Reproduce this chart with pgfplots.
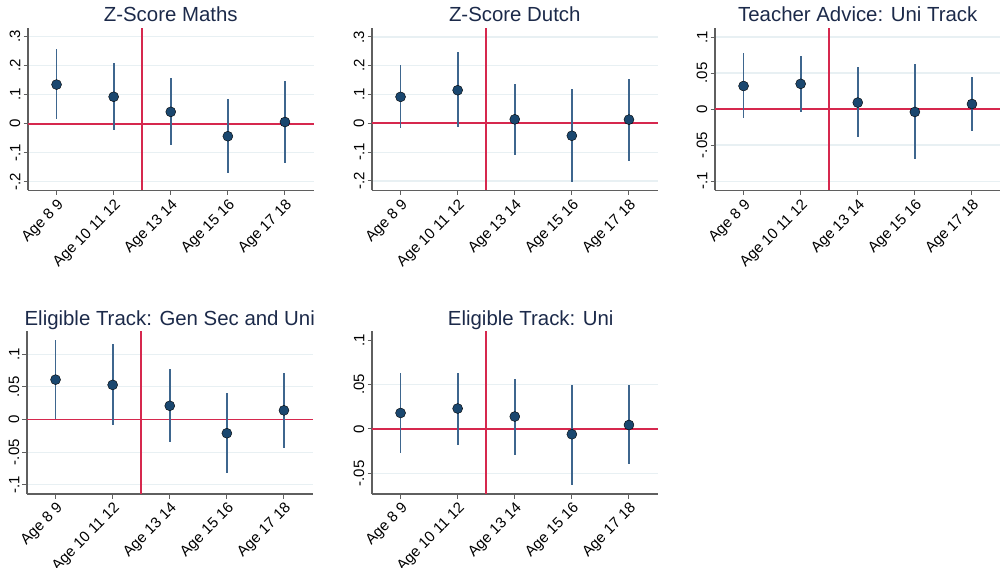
\documentclass[border=0pt]{standalone}
\usepackage{pgfplots}
\usepackage{pgfplotstable}
\usepackage{fontspec}
\setmainfont{Liberation Sans}
\pgfplotsset{compat=1.18}

\definecolor{navy}{RGB}{26,71,111}
\definecolor{cicol}{RGB}{62,102,142}
\definecolor{refred}{RGB}{214,40,78}
\definecolor{gridcol}{RGB}{232,240,243}
\definecolor{axiscol}{RGB}{95,95,95}
\definecolor{titlecol}{RGB}{28,42,74}

\newcommand{\ticksize}{\fontsize{15}{18}\selectfont}
\newcommand{\titlesize}{\fontsize{20.4}{24}\selectfont}

% estimate b with confidence bounds lo, hi for each age group
\pgfplotstableread{
x b lo hi
0 0.135 0.016 0.258
1 0.093 -0.023 0.211
2 0.041 -0.074 0.157
3 -0.043 -0.168 0.085
4 0.006 -0.134 0.147
}\mathsdata
\pgfplotstableread{
x b lo hi
0 0.092 -0.016 0.201
1 0.115 -0.012 0.248
2 0.014 -0.110 0.137
3 -0.043 -0.203 0.119
4 0.013 -0.129 0.153
}\dutchdata
\pgfplotstableread{
x b lo hi
0 0.032 -0.013 0.078
1 0.035 -0.004 0.074
2 0.009 -0.039 0.058
3 -0.004 -0.069 0.062
4 0.007 -0.031 0.045
}\advicedata
\pgfplotstableread{
x b lo hi
0 0.061 0.0015 0.121
1 0.053 -0.008 0.115
2 0.021 -0.035 0.077
3 -0.021 -0.082 0.040
4 0.014 -0.044 0.071
}\gensecdata
\pgfplotstableread{
x b lo hi
0 0.018 -0.027 0.063
1 0.023 -0.018 0.063
2 0.014 -0.029 0.056
3 -0.006 -0.063 0.050
4 0.0045 -0.040 0.049
}\unidata

\pgfplotsset{
  stpanel/.style={
    scale only axis,
    width=285.5pt, height=162.5pt,
    anchor=south west,
    axis lines=left,
    axis line style={-, draw=axiscol, line width=1.1pt},
    xmin=-0.5, xmax=4.5,
    xtick={0,1,2,3,4},
    xticklabels={Age 8 9, Age 10 11 12, Age 13 14, Age 15 16, Age 17 18},
    tick align=outside,
    major tick length=4.5pt,
    tick style={draw=axiscol, line width=1pt},
    ymajorgrids,
    major grid style={draw=gridcol, line width=1.2pt},
    ticklabel style={font=\ticksize},
    xticklabel style={rotate=45, anchor=north east, inner sep=2pt},
    yticklabel style={rotate=90, anchor=south, inner sep=3pt},
    title style={font=\titlesize, text=titlecol, at={(0.5,1)}, anchor=base, yshift=0pt},
    clip=false,
  },
  cibar/.style={only marks, mark=none, forget plot,
    error bars/.cd, y dir=both, y explicit, error mark=none,
    error bar style={draw=cicol, line width=1.7pt}},
  est/.style={only marks, mark=*, mark size=5pt, forget plot,
    mark options={fill=navy, draw=none}},
}

% red reference bands: y = 0 and the cut between ages 12 and 13
\newcommand{\reflines}{%
  \coordinate (hl) at ({rel axis cs:0,0}|-{axis cs:0,0});
  \coordinate (hr) at ({rel axis cs:1,0}|-{axis cs:0,0});
  \coordinate (vb) at ({axis cs:1.5,0}|-{rel axis cs:0,0});
  \coordinate (vt) at ({axis cs:1.5,0}|-{rel axis cs:0,1});
  \fill[refred] ([yshift=-0.9pt]hl) rectangle ([yshift=0.9pt]hr);
  \fill[refred] ([xshift=-0.9pt]vb) rectangle ([xshift=0.9pt]vt);
}
\newcommand{\estplot}[1]{%
  \reflines
  \addplot[cibar] table[x=x, y=b,
    y error plus expr=\thisrow{hi}-\thisrow{b},
    y error minus expr=\thisrow{b}-\thisrow{lo}] {#1};
  \addplot[est] table[x=x, y=b] {#1};
}

\begin{document}
\begin{tikzpicture}
\useasboundingbox (0pt,0pt) rectangle (1000pt,567pt);

% Z-score maths
\begin{axis}[stpanel, at={(28pt,376.5pt)},
  title={Z-Score Maths},
  ymin=-0.23, ymax=0.33,
  ytick={-0.2,-0.1,0,0.1,0.2,0.3},
  yticklabels={-.2,-.1,0,.1,.2,.3}]
\estplot{\mathsdata}
\end{axis}

% Z-score Dutch
\begin{axis}[stpanel, at={(372pt,376.5pt)},
  title={Z-Score Dutch},
  ymin=-0.233, ymax=0.331,
  ytick={-0.2,-0.1,0,0.1,0.2,0.3},
  yticklabels={-.2,-.1,0,.1,.2,.3}]
\estplot{\dutchdata}
\end{axis}

% Teacher advice
\begin{axis}[stpanel, at={(715pt,376.5pt)},
  title={Teacher Advice: Uni Track},
  ymin=-0.113, ymax=0.1125,
  ytick={-0.1,-0.05,0,0.05,0.1},
  yticklabels={-.1,-.05,0,.05,.1}]
\estplot{\advicedata}
\end{axis}

% Eligible track: general secondary and university
\begin{axis}[stpanel, at={(27pt,73pt)},
  title={Eligible Track: Gen Sec and Uni},
  ymin=-0.114, ymax=0.1347,
  ytick={-0.1,-0.05,0,0.05,0.1},
  yticklabels={-.1,-.05,0,.05,.1}]
\estplot{\gensecdata}
\end{axis}

% Eligible track: university (no grid line at .1)
\begin{axis}[stpanel, at={(372pt,73pt)},
  title={Eligible Track: Uni},
  title style={at={(0.556,1)}},
  ymin=-0.0733, ymax=0.1098,
  ytick={-0.05,0,0.05},
  yticklabels={-.05,0,.05},
  extra y ticks={0.1},
  extra y tick labels={.1},
  extra y tick style={ymajorgrids=false}]
\estplot{\unidata}
\end{axis}
\end{tikzpicture}
\end{document}
